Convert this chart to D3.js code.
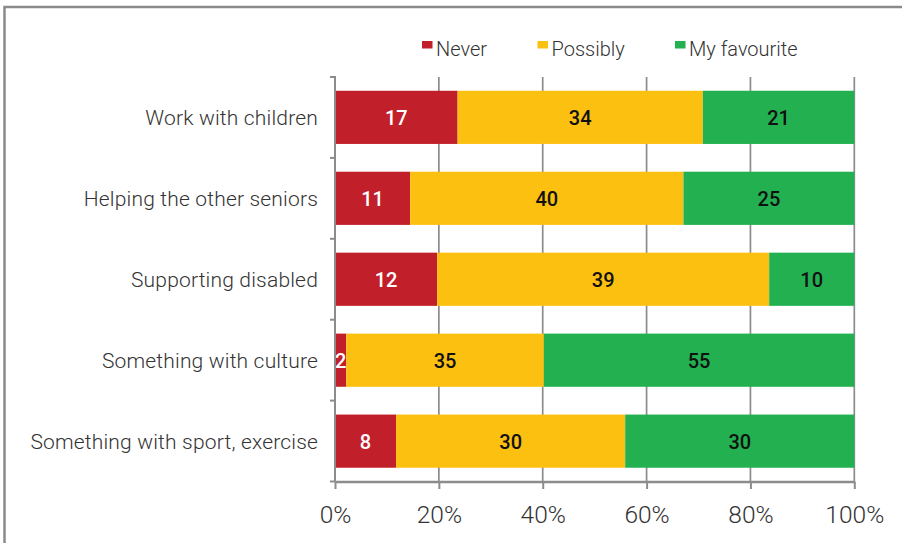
<!DOCTYPE html>
<html>
<head>
<meta charset="utf-8">
<script src="https://cdn.jsdelivr.net/npm/d3@7"></script>
<style>
  html, body { margin: 0; padding: 0; background: #fff; }
  svg { display: block; font-family: Roboto, "Open Sans", sans-serif; }
</style>
</head>
<body>
<svg id="chart" width="902" height="543"></svg>
<script>
// Activities and how many respondents answered each option
const categories = [
  "Work with children",
  "Helping the other seniors",
  "Supporting disabled",
  "Something with culture",
  "Something with sport, exercise"
];
const seriesNames = ["Never", "Possibly", "My favourite"];
const never      = [17, 11, 12, 2, 8];
const possibly   = [34, 40, 39, 35, 30];
const favourite  = [21, 25, 10, 55, 30];
const tickValues = [0, 0.2, 0.4, 0.6, 0.8, 1];
const tickLabels = ["0%", "20%", "40%", "60%", "80%", "100%"];

const colors = ["#C1202A", "#FCC010", "#22B050"];
const labelColors = ["#ffffff", "#111111", "#111111"];

const rows = categories.map((c, i) => ({
  category: c,
  "Never": never[i],
  "Possibly": possibly[i],
  "My favourite": favourite[i]
}));

const stack = d3.stack().keys(seriesNames).offset(d3.stackOffsetExpand);
const layers = stack(rows);

const svg = d3.select("#chart");

// outer frame
svg.append("rect")
  .attr("x", 4.5).attr("y", 7)
  .attr("width", 1000).attr("height", 1000)
  .attr("fill", "none").attr("stroke", "#8a8a8a").attr("stroke-width", 2.5);

const plot = { left: 335, right: 854.3, top: 77, bottom: 481.5 };

const x = d3.scaleLinear().domain([0, 1]).range([plot.left, plot.right]);
const y = d3.scaleBand().domain(categories).range([plot.top, plot.bottom])
  .paddingInner(0.343).paddingOuter(0.17);
const yBands = d3.scaleBand().domain(categories).range([plot.top, plot.bottom]);

const gridColor = "#8c8c8c";

// vertical gridlines
svg.append("g").selectAll("line")
  .data(tickValues.slice(1))
  .join("line")
  .attr("x1", d => x(d)).attr("x2", d => x(d))
  .attr("y1", plot.top).attr("y2", plot.bottom)
  .attr("stroke", gridColor).attr("stroke-width", 1.7);

// stacked bars
const layerG = svg.append("g").selectAll("g")
  .data(layers)
  .join("g")
  .attr("fill", (d, i) => colors[i]);

layerG.selectAll("rect")
  .data(d => d)
  .join("rect")
  .attr("x", d => x(d[0]))
  .attr("y", d => y(d.data.category))
  .attr("width", d => x(d[1]) - x(d[0]))
  .attr("height", y.bandwidth());

// value labels in each segment
svg.append("g").selectAll("g")
  .data(layers)
  .join("g")
  .each(function (layer, li) {
    d3.select(this).selectAll("text")
      .data(layer)
      .join("text")
      .attr("x", d => (x(d[0]) + x(d[1])) / 2)
      .attr("y", d => y(d.data.category) + y.bandwidth() / 2 + 7.5)
      .attr("text-anchor", "middle")
      .attr("font-size", 20)
      .attr("font-weight", 500)
      .attr("fill", labelColors[li])
      .text(d => d.data[layer.key]);
  });

// y axis
const yAxisG = svg.append("g");
yAxisG.append("line")
  .attr("x1", plot.left).attr("x2", plot.left)
  .attr("y1", plot.top - 1).attr("y2", plot.bottom)
  .attr("stroke", gridColor).attr("stroke-width", 2);
const boundaries = categories.map(c => yBands(c)).concat([plot.bottom]);
yAxisG.selectAll("line.tick")
  .data(boundaries)
  .join("line")
  .attr("class", "tick")
  .attr("x1", plot.left - 5).attr("x2", plot.left)
  .attr("y1", d => d).attr("y2", d => d)
  .attr("stroke", gridColor).attr("stroke-width", 2);
yAxisG.selectAll("text")
  .data(categories)
  .join("text")
  .attr("x", 318)
  .attr("y", d => y(d) + y.bandwidth() / 2 + 8)
  .attr("text-anchor", "end")
  .attr("font-size", 21)
  .attr("font-weight", 300)
  .attr("letter-spacing", 0.18)
  .attr("fill", "#333")
  .text(d => d);

// x axis
const xAxis = d3.axisBottom(x)
  .tickValues(tickValues)
  .tickFormat((d, i) => tickLabels[i])
  .tickSize(7.5)
  .tickPadding(17)
  .tickSizeOuter(0);
const xAxisG = svg.append("g")
  .attr("transform", `translate(0,${plot.bottom})`)
  .call(xAxis);
xAxisG.select(".domain").attr("stroke", gridColor).attr("stroke-width", 2.5);
xAxisG.selectAll(".tick line").attr("stroke", gridColor).attr("stroke-width", 2);
xAxisG.selectAll(".tick text")
  .attr("font-family", "Roboto, sans-serif")
  .attr("font-size", 24.5)
  .attr("font-weight", 300)
  .attr("fill", "#333");

// legend
const legendX = [422, 537.5, 675];
const legend = svg.append("g").selectAll("g")
  .data(seriesNames)
  .join("g")
  .attr("transform", (d, i) => `translate(${legendX[i]},0)`);
legend.append("rect")
  .attr("x", 0).attr("y", 41)
  .attr("width", 10.5).attr("height", 7.5)
  .attr("fill", (d, i) => colors[i]);
legend.append("text")
  .attr("x", 14).attr("y", 55.5)
  .attr("font-size", 20)
  .attr("font-weight", 300)
  .attr("fill", "#333")
  .text(d => d);
</script>
</body>
</html>
